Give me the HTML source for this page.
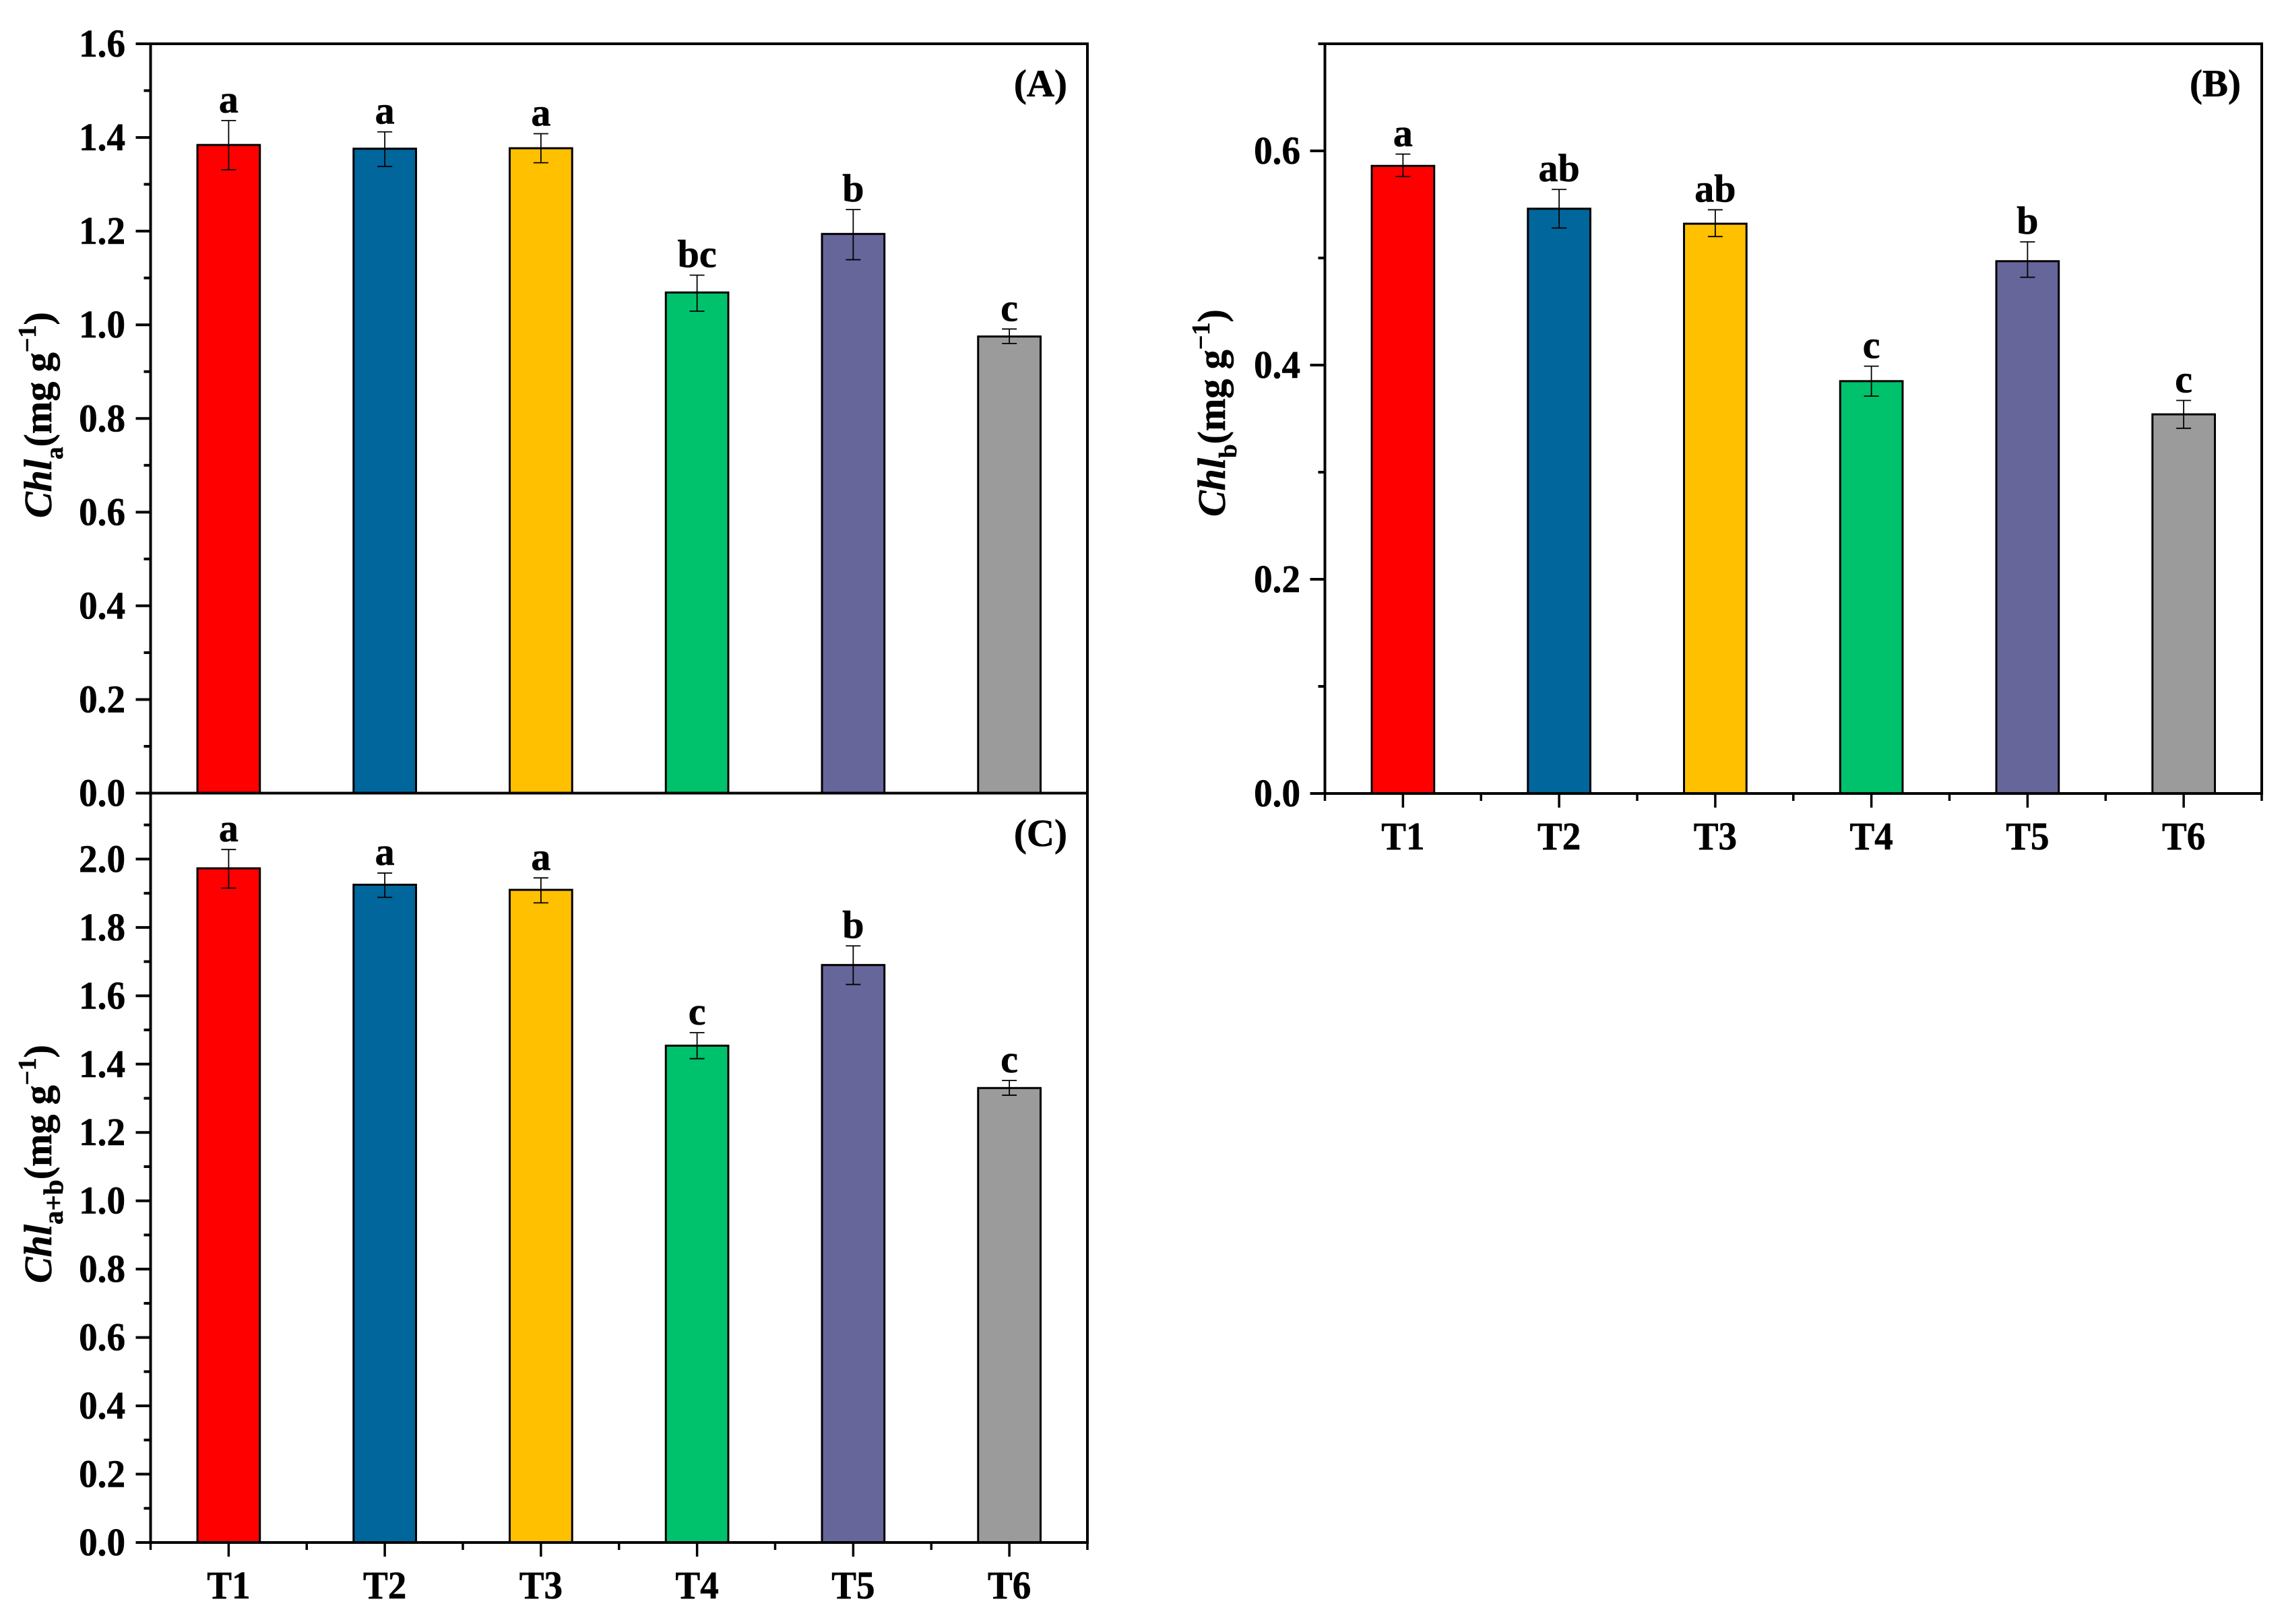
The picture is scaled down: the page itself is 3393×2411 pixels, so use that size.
<!DOCTYPE html>
<html lang="en">
<head>
<meta charset="utf-8">
<title>Chlorophyll content by treatment</title>
<style>
html,body{margin:0;padding:0;background:#fff;width:3393px;height:2411px;overflow:hidden}
svg{display:block}
text{font-family:"Liberation Serif","Times New Roman",serif;font-weight:bold;fill:#000;stroke:#000;stroke-width:0.6}
</style>
</head>
<body>
<svg id="chart" xmlns="http://www.w3.org/2000/svg" width="3393" height="2411" viewBox="0 0 3393 2411">
  <rect x="0" y="0" width="3393" height="2411" fill="#ffffff"/>
  <g id="panel-a"></g>
  <g id="panel-b"></g>
  <g id="panel-c"></g>
  <text x="1584" y="143" text-anchor="end" font-size="57">(A)</text>
  <text x="3326" y="143" text-anchor="end" font-size="57">(B)</text>
  <text x="1584" y="1256" text-anchor="end" font-size="57">(C)</text>
  <text transform="translate(76 769) rotate(-90)" font-size="58"><tspan font-style="italic">Chl</tspan><tspan font-size="37" dy="17">a</tspan><tspan dy="-17">(mg g</tspan><tspan font-size="38" dy="-23">−1</tspan><tspan dy="23">)</tspan></text>
  <text transform="translate(1818 767) rotate(-90)" font-size="58"><tspan font-style="italic">Chl</tspan><tspan font-size="37" dy="17">b</tspan><tspan dy="-17">(mg g</tspan><tspan font-size="38" dy="-23">−1</tspan><tspan dy="23">)</tspan></text>
  <text transform="translate(76 1905) rotate(-90)" font-size="58"><tspan font-style="italic">Chl</tspan><tspan font-size="41" dy="17">a+b</tspan><tspan dy="-17">(mg g</tspan><tspan font-size="38" dy="-23">−1</tspan><tspan dy="23">)</tspan></text>
</svg>
<script>
const categories = ["T1", "T2", "T3", "T4", "T5", "T6"];
const barColors = ["#ff0000", "#00669c", "#ffc000", "#00c16c", "#66669a", "#9b9b9b"];

const chlAValues = [1.384, 1.376, 1.377, 1.069, 1.194, 0.975];
const chlAHigh = [1.436, 1.412, 1.408, 1.106, 1.246, 0.991];
const chlALow = [1.331, 1.338, 1.346, 1.029, 1.139, 0.960];
const chlALetters = ["a", "a", "a", "bc", "b", "c"];
const chlATicks = ["0.0", "0.2", "0.4", "0.6", "0.8", "1.0", "1.2", "1.4", "1.6"];

const chlBValues = [0.586, 0.546, 0.532, 0.385, 0.497, 0.354];
const chlBHigh = [0.597, 0.564, 0.545, 0.399, 0.515, 0.367];
const chlBLow = [0.576, 0.528, 0.520, 0.371, 0.482, 0.341];
const chlBLetters = ["a", "ab", "ab", "c", "b", "c"];
const chlBTicks = ["0.0", "0.2", "0.4", "0.6"];

const chlABValues = [1.973, 1.925, 1.910, 1.454, 1.690, 1.330];
const chlABHigh = [2.028, 1.959, 1.945, 1.492, 1.746, 1.352];
const chlABLow = [1.915, 1.888, 1.872, 1.416, 1.633, 1.309];
const chlABLetters = ["a", "a", "a", "c", "b", "c"];
const chlABTicks = ["0.0", "0.2", "0.4", "0.6", "0.8", "1.0", "1.2", "1.4", "1.6", "1.8", "2.0"];

const SVGNS = "http://www.w3.org/2000/svg";

function make(tag, attrs, parent) {
  const node = document.createElementNS(SVGNS, tag);
  for (const key in attrs) node.setAttribute(key, attrs[key]);
  parent.appendChild(node);
  return node;
}

function axisLine(parent, x1, y1, x2, y2, width, name) {
  const ln = make("line", { x1: x1, y1: y1, x2: x2, y2: y2, stroke: "#000", "stroke-width": width }, parent);
  
  
  return ln;
}

function drawPanel(cfg) {
  const host = document.getElementById(cfg.id);
  const yOf = function (v) { return cfg.y0 - (v / cfg.yMax) * (cfg.y0 - cfg.yTop); };
  const slot = (cfg.xR - cfg.xL) / categories.length;
  const xOf = function (i) { return cfg.xL + slot * (i + 0.5); };
  const barW = slot * 0.4;

  cfg.values.forEach(function (v, i) {
    const bar = make("rect", {
      x: xOf(i) - barW / 2, y: yOf(v), width: barW, height: cfg.y0 - yOf(v),
      fill: barColors[i], stroke: "#000", "stroke-width": 3
    }, host);
    
    

    const cx = xOf(i);
    const hi = yOf(cfg.high[i]);
    const lo = yOf(cfg.low[i]);
    const stem = make("line", { x1: cx, y1: hi, x2: cx, y2: lo, stroke: "#000", "stroke-width": 1.8 }, host);
    
    
    const capTop = make("line", { x1: cx - 11, y1: hi, x2: cx + 11, y2: hi, stroke: "#000", "stroke-width": 1.8 }, host);
    
    
    const capLow = make("line", { x1: cx - 11, y1: lo, x2: cx + 11, y2: lo, stroke: "#000", "stroke-width": 1.8 }, host);
    
    

    const letter = make("text", { x: cx, y: hi - 12, "text-anchor": "middle", "font-size": 58 }, host);
    letter.textContent = cfg.letters[i];
    
    
  });

  axisLine(host, cfg.xL, cfg.yTop - 2, cfg.xL, cfg.y0 + 2, 4, 'y-axis-line');
  axisLine(host, cfg.xR, cfg.yTop - 2, cfg.xR, cfg.y0 + 2, 4, 'right-frame-line');
  axisLine(host, cfg.xL, cfg.y0, cfg.xR + 2, cfg.y0, 4, 'x-axis-line');
  if (cfg.drawTop) axisLine(host, cfg.xL, cfg.yTop, cfg.xR + 2, cfg.yTop, 4, 'top-frame-line');

  cfg.ticks.forEach(function (label) {
    const v = parseFloat(label);
    const y = yOf(v);
    axisLine(host, cfg.xL - 22, y, cfg.xL, y, 4, 'y-tick-' + label);
    const t = make("text", { transform: "translate(" + cfg.labelX + " " + (y + 19) + ") scale(0.95 1)", "text-anchor": "end", "font-size": 58 }, host);
    t.textContent = label;
    
    
    const minorV = v + cfg.minorStep;
    if (minorV <= cfg.yMax + 1e-9) {
      const my = yOf(minorV);
      axisLine(host, cfg.xL - 10, my, cfg.xL, my, 4, 'y-minor-tick');
    }
  });

  if (cfg.drawX) {
    categories.forEach(function (name, i) {
      axisLine(host, xOf(i), cfg.y0, xOf(i), cfg.y0 + 21, 3.5, 'x-tick-' + name.toLowerCase());
      const t = make("text", { transform: "translate(" + xOf(i) + " " + (cfg.y0 + 83) + ") scale(0.95 1)", "text-anchor": "middle", "font-size": 58 }, host);
      t.textContent = name;
      
      
    });
    for (let i = 0; i <= categories.length; i++) {
      const x = cfg.xL + slot * i;
      axisLine(host, x, cfg.y0, x, cfg.y0 + 11, 3.5, 'x-minor-tick');
    }
  }
}

drawPanel({
  id: "panel-a", xL: 223.5, xR: 1614, y0: 1177.5, yTop: 65, yMax: 1.6, minorStep: 0.1, labelX: 186,
  drawTop: true, drawX: false,
  values: chlAValues, high: chlAHigh, low: chlALow, letters: chlALetters, ticks: chlATicks
});
drawPanel({
  id: "panel-b", xL: 1966.5, xR: 3357, y0: 1178, yTop: 65, yMax: 0.7, minorStep: 0.1, labelX: 1930,
  drawTop: true, drawX: true,
  values: chlBValues, high: chlBHigh, low: chlBLow, letters: chlBLetters, ticks: chlBTicks
});
drawPanel({
  id: "panel-c", xL: 223.5, xR: 1614, y0: 2290, yTop: 1177.5, yMax: 2.193, minorStep: 0.1, labelX: 186,
  drawTop: false, drawX: true,
  values: chlABValues, high: chlABHigh, low: chlABLow, letters: chlABLetters, ticks: chlABTicks
});
</script>
</body>
</html>
